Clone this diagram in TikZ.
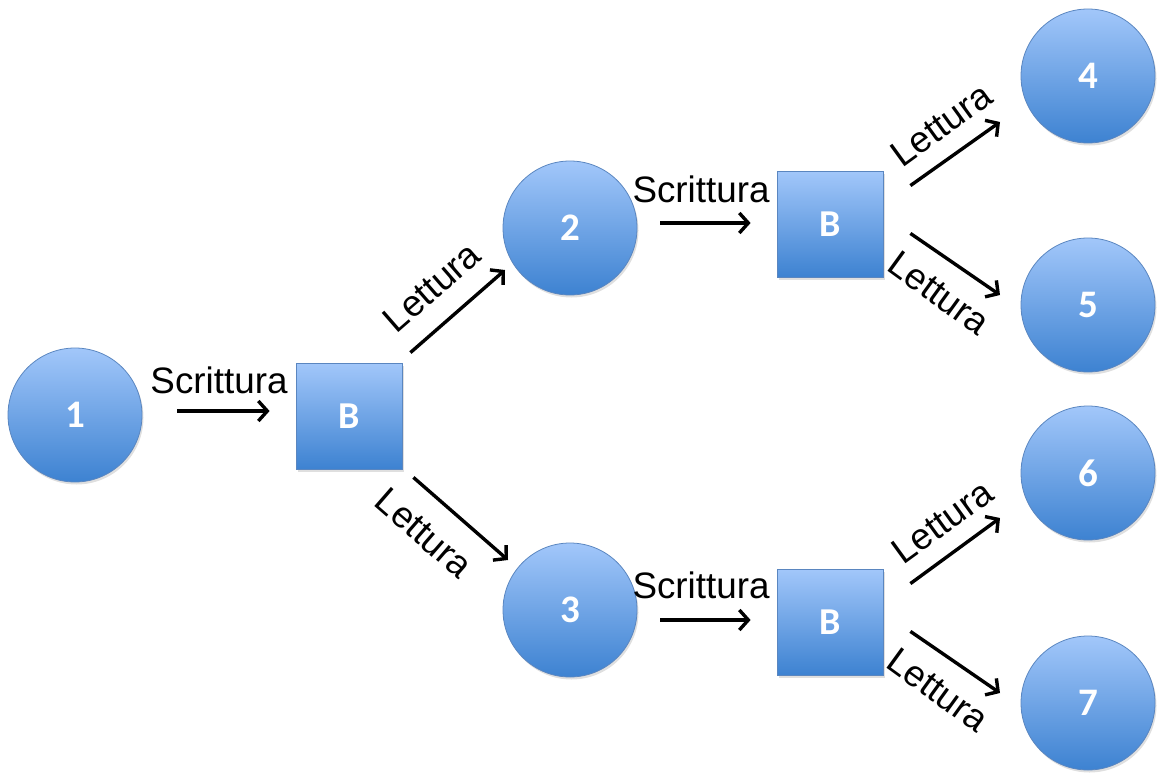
\documentclass[tikz,border=0pt]{standalone}
\usepackage{fontspec}
\setmainfont{Liberation Sans}
\newfontfamily\nodefont{Carlito}
\usetikzlibrary{arrows.meta,calc,shadows}
\definecolor{topblue}{HTML}{A2C7FA}
\definecolor{botblue}{HTML}{3D82D1}
\definecolor{edgeblue}{HTML}{5A86C0}
\tikzset{
  stateball/.style={circle, minimum size=134pt, inner sep=0pt, draw=edgeblue, line width=0.8pt,
    top color=topblue, bottom color=botblue, text=white, font=\nodefont\fontsize{39}{44}\selectfont\bfseries,
    drop shadow={opacity=0.25, shadow xshift=1.5pt, shadow yshift=-2.5pt}},
  bufbox/.style={rectangle, minimum size=106pt, inner sep=0pt, draw=edgeblue, line width=0.8pt,
    top color=topblue, bottom color=botblue, text=white, font=\nodefont\fontsize{38}{44}\selectfont\bfseries,
    drop shadow={opacity=0.25, shadow xshift=1.5pt, shadow yshift=-2.5pt}},
  flow/.style={line width=3.4pt, -{Straight Barb[length=9pt, width=20pt, line width=3.4pt]}},
  lab/.style={font=\fontsize{36.8}{40}\selectfont, inner sep=0pt}
}
\begin{document}
\begin{tikzpicture}[x=1pt,y=-1pt]
\useasboundingbox (0,0) rectangle (1165,784);
% nodes
\node[stateball] (c1) at (75,415) {1};
\node[bufbox] (b1) at (349,416) {B};
\node[stateball] (c2) at (570,228) {2};
\node[stateball] (c3) at (570,610) {3};
\node[bufbox] (b2) at (830,224) {B};
\node[bufbox] (b3) at (830,622) {B};
\node[stateball] (c4) at (1088,76) {4};
\node[stateball] (c5) at (1088,305) {5};
\node[stateball] (c6) at (1088,473) {6};
\node[stateball] (c7) at (1088,703) {7};
% arrows
\draw[flow] ($(c1.east)+(35,-4)$) -- ($(b1.west)+(-26,-5)$);
\draw[flow] ($(b1.north east)+(8,-10)$) -- ($(c2.center)+(-65,42)$);
\draw[flow] ($(b1.south east)+(11,8)$) -- ($(c3.center)+(-62,-50)$);
\draw[flow] ($(c2.east)+(23,-5)$) -- ($(b2.west)+(-26,-1)$);
\draw[flow] ($(b2.north east)+(27,15)$) -- ($(c4.center)+(-88,46)$);
\draw[flow] ($(b2.south east)+(27,-44)$) -- ($(c5.center)+(-88,-10)$);
\draw[flow] ($(c3.east)+(23,10)$) -- ($(b3.west)+(-26,-2)$);
\draw[flow] ($(b3.north east)+(27,15)$) -- ($(c6.center)+(-88,45)$);
\draw[flow] ($(b3.south east)+(27,-44)$) -- ($(c7.center)+(-88,-10)$);
% labels
\node[lab] (l1) at (219,380) {Scrittura};
\node[lab, rotate=41] (l2) at (432,287) {Lettura};
\node[lab, rotate=-41] (l3) at (424,533) {Lettura};
\node[lab] (l4) at (701,189) {Scrittura};
\node[lab, rotate=36] (l5) at (941,125) {Lettura};
\node[lab, rotate=-36] (l6) at (939,293) {Lettura};
\node[lab] (l7) at (701,585) {Scrittura};
\node[lab, rotate=36] (l8) at (942,522) {Lettura};
\node[lab, rotate=-36] (l9) at (938,690) {Lettura};
\end{tikzpicture}
\end{document}
